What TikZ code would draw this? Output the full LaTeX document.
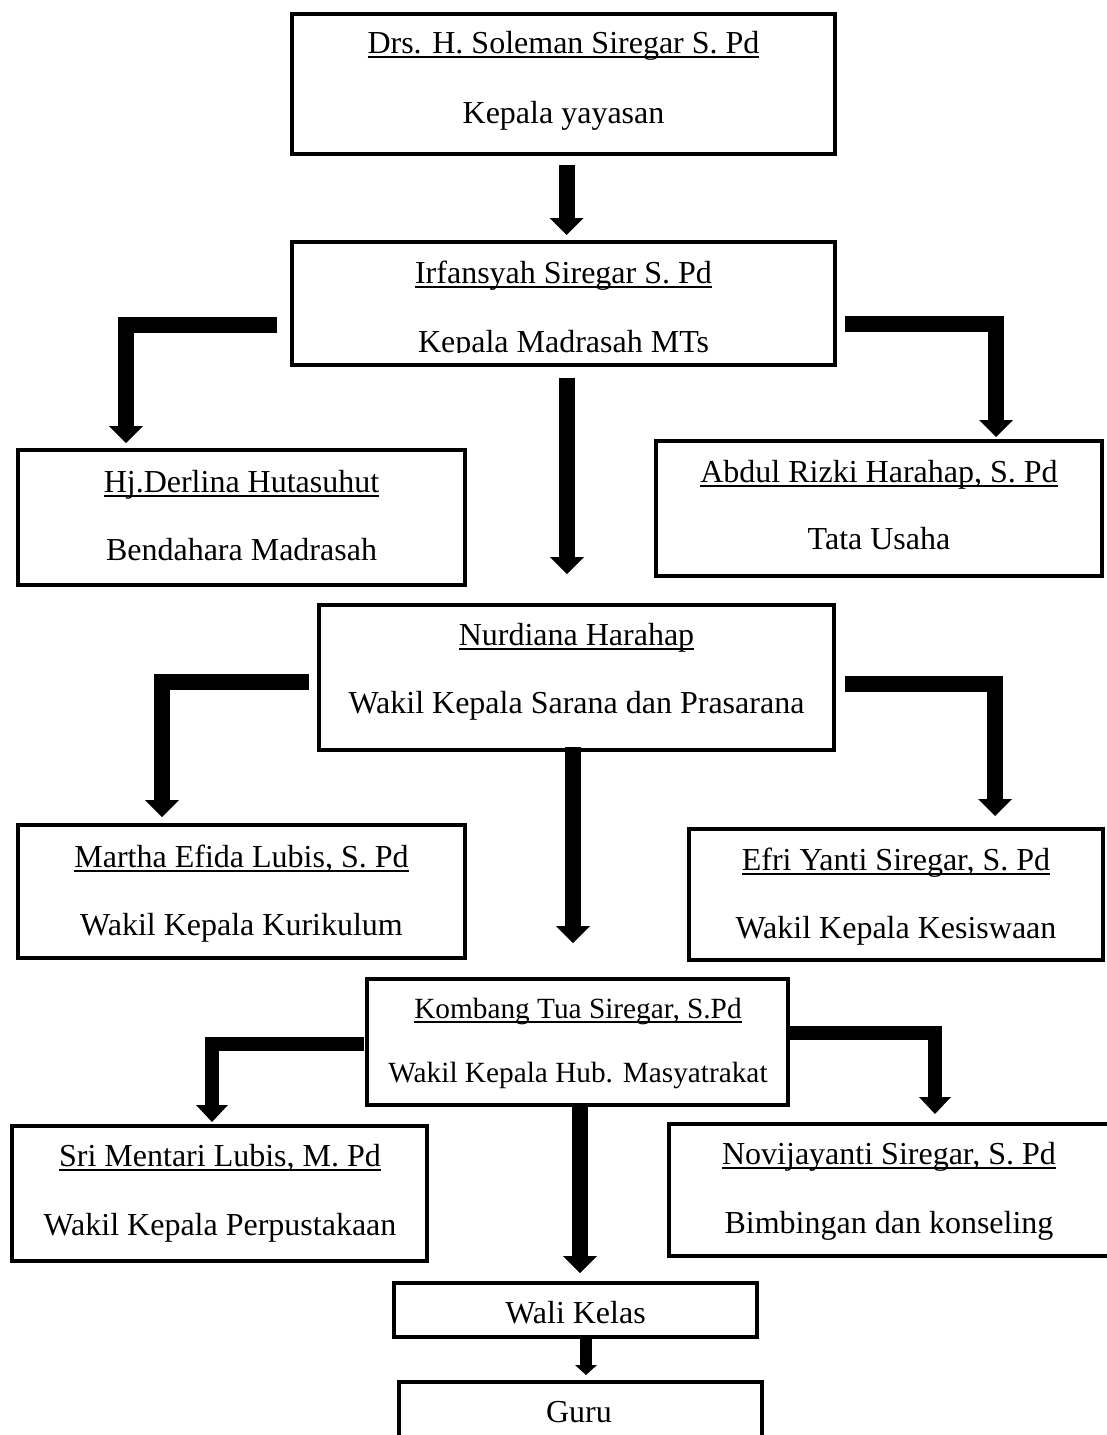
\documentclass[tikz,border=0pt]{standalone}
\usepackage{fontspec}
\setmainfont{Liberation Serif}
\usetikzlibrary{arrows.meta,calc}
\newsavebox\ulbox
\newcommand{\ulx}[1]{\sbox\ulbox{#1}\rlap{\rule[-5pt]{\wd\ulbox}{1.6pt}}\usebox\ulbox}
\begin{document}
\begin{tikzpicture}[x=1pt,y=-1pt,
  box/.style={draw, line width=4pt, rectangle, inner sep=0pt},
  txt/.style={anchor=base, inner sep=0pt, font=\fontsize{32}{38}\selectfont},
  txts/.style={anchor=base, inner sep=0pt, font=\fontsize{29.3}{35}\selectfont},
  conn/.style={line width=16pt, line join=miter, -{Triangle[width=34pt,length=17pt,line width=0pt]}},
  conns/.style={line width=14pt, line join=miter, -{Triangle[width=32pt,length=17pt,line width=0pt]}},
  connt/.style={line width=12pt, line join=miter, -{Triangle[width=22pt,length=10pt,line width=0pt]}}]
\useasboundingbox (0,0) rectangle (1107,1435);

% boxes
\node[box, minimum width=543, minimum height=140] (A) at (563.5,84) {};
\node[box, minimum width=543, minimum height=123] (B) at (563.5,303.5) {};
\node[box, minimum width=447, minimum height=135] (C) at (241.5,517.5) {};
\node[box, minimum width=446, minimum height=135] (D) at (879,508.5) {};
\node[box, minimum width=515, minimum height=145] (E) at (576.5,677.5) {};
\node[box, minimum width=447, minimum height=133] (F) at (241.5,891.5) {};
\node[box, minimum width=414, minimum height=131] (G) at (896,894.5) {};
\node[box, minimum width=421, minimum height=126] (H) at (577.5,1042) {};
\node[box, minimum width=415, minimum height=135] (I) at (219.5,1193.5) {};
\node[box, minimum width=440, minimum height=132] (J) at (889,1190) {};
\node[box, minimum width=363, minimum height=54] (K) at (575.5,1310) {};
\node[box, minimum width=363, minimum height=96] (L) at (580.5,1430) {};

% texts
\node[txt] (A1) at (563.5,53) {\ulx{Drs. H. Soleman Siregar S. Pd}};
\node[txt] (A2) at (563.5,123) {Kepala yayasan};
\node[txt] (B1) at (563.5,283) {\ulx{Irfansyah Siregar S. Pd}};
\node[txt] (B2) at (563.5,352) {Kepala Madrasah MTs};
\fill[white] ($(B2.base west)+(-2,1)$) rectangle ($(B2.base east)+(2,10)$);
\node[txt] (C1) at (241.5,492) {\ulx{Hj.Derlina Hutasuhut}};
\node[txt] (C2) at (241.5,560) {Bendahara Madrasah};
\node[txt] (D1) at (879,482) {\ulx{Abdul Rizki Harahap, S. Pd}};
\node[txt] (D2) at (879,549) {Tata Usaha};
\node[txt] (E1) at (576.5,645) {\ulx{Nurdiana Harahap}};
\node[txt] (E2) at (576.5,713) {Wakil Kepala Sarana dan Prasarana};
\node[txt] (F1) at (241.5,867) {\ulx{Martha Efida Lubis, S. Pd}};
\node[txt] (F2) at (241.5,935) {Wakil Kepala Kurikulum};
\node[txt] (G1) at (896,870) {\ulx{Efri Yanti Siregar, S. Pd}};
\node[txt] (G2) at (896,938) {Wakil Kepala Kesiswaan};
\node[txts] (H1) at (578,1018) {\ulx{Kombang Tua Siregar, S.Pd}};
\node[txts] (H2) at (578,1082) {Wakil Kepala Hub. Masyatrakat};
\node[txt] (I1) at (220,1166) {\ulx{Sri Mentari Lubis, M. Pd}};
\node[txt] (I2) at (220,1235) {Wakil Kepala Perpustakaan};
\node[txt] (J1) at (889,1164) {\ulx{Novijayanti Siregar, S. Pd}};
\node[txt] (J2) at (889,1233) {Bimbingan dan konseling};
\node[txt] (K1) at (575.5,1323) {Wali Kelas};
\node[txt] (L1) at (579,1422) {Guru};

% connectors
\draw[conn] ($(A.south)+(3,9)$) -- ($(B.north)+(3,-5)$);
\draw[conn] ($(B.west)+(-13,21)$) -| ($(C.north)+(-115.5,-5)$);
\draw[conn] ($(B.east)+(8,20.5)$) -| ($(D.north)+(117,-2)$);
\draw[conn] ($(B.south)+(3.5,11)$) -- ($(E.north)+(-9.5,-29)$);
\draw[conn] ($(E.west)+(-8,4)$) -| ($(F.north)+(-79.5,-6)$);
\draw[conn] ($(E.east)+(9,6.5)$) -| ($(G.north)+(99,-11)$);
\draw[conn] ($(E.south)+(-3.5,-5)$) -- ($(H.north)+(-4.5,-34)$);
\draw[conns] ($(H.west)+(-1,2)$) -| ($(I.north)+(-7.5,-2)$);
\draw[conns] ($(H.east)+(-3,-9)$) -| ($(J.north)+(46,-8)$);
\draw[conn] ($(H.south)+(2.5,-4)$) -- ($(K.north)+(4.5,-8)$);
\draw[connt] ($(K.south)+(10.5,0)$) -- ($(L.north)+(5.5,-5)$);
\end{tikzpicture}
\end{document}
